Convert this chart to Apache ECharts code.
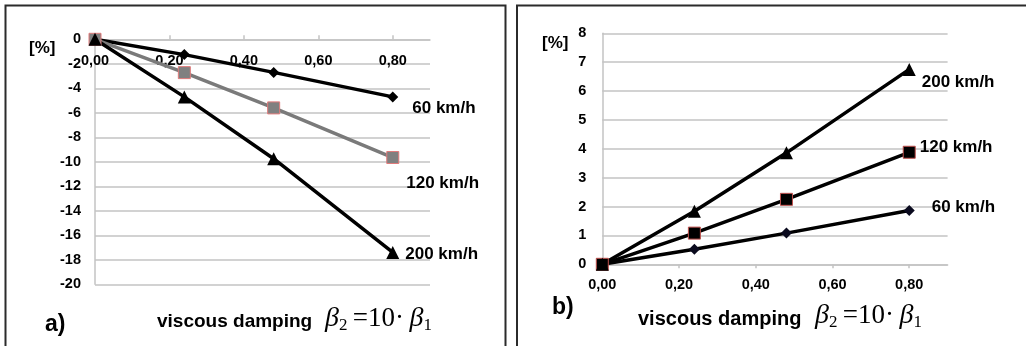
<!DOCTYPE html>
<html><head><meta charset="utf-8">
<script src="https://cdn.jsdelivr.net/npm/echarts@6/dist/echarts.min.js"></script>
<style>html,body{margin:0;padding:0;background:#fff}#c{width:1026px;height:346px}</style>
</head><body><div id="c"></div>
<script>
// data
const dampingX = [0, 0.24, 0.48, 0.80];
const xTicks = [0, 0.2, 0.4, 0.6, 0.8];
// a) left chart
const a60 = [0, -1.25, -2.7, -4.7];
const a120 = [0, -2.72, -5.6, -9.65];
const a200 = [0, -4.7, -9.75, -17.4];
// b) right chart
const b60 = [0, 0.52, 1.08, 1.86];
const b120 = [0, 1.08, 2.25, 3.88];
const b200 = [0, 1.84, 3.86, 6.75];
const speedNames = ['60 km/h', '120 km/h', '200 km/h'];

const FONT = 'Liberation Sans, Arial, sans-serif';
const pairs = a => a.map((v, i) => [dampingX[i], v]);
const fmt = v => v.toFixed(2).replace('.', ',');

function withEndLabel(arr, name, offset) {
  const d = pairs(arr);
  return d.map((p, i) => i === d.length - 1 ? {
    value: p,
    label: { show: true, formatter: name, position: 'right', offset: offset,
      fontFamily: FONT, fontWeight: 'bold', fontSize: 17, color: '#000' }
  } : { value: p });
}

const gridLineColor = '#c3c3c3';
function xAxisCfg(gridIndex, top) {
  return {
    type: 'value', gridIndex, min: 0, max: 0.9, position: top ? 'top' : 'bottom',
    axisLine: { show: true, onZero: false, lineStyle: { color: gridLineColor, width: 1.5 } },
    axisTick: { show: true, length: 4, customValues: xTicks, lineStyle: { color: gridLineColor, width: 1.5 } },
    axisLabel: { inside: top, margin: top ? 14 : 13, customValues: xTicks, formatter: fmt,
      fontFamily: FONT, fontWeight: 'bold', fontSize: 14.5, color: '#000' },
    splitLine: { show: false }
  };
}
function yAxisCfg(gridIndex, min, max, interval, margin) {
  return {
    type: 'value', gridIndex, min, max, interval,
    axisLine: { show: true, lineStyle: { color: gridLineColor, width: 1.5 } },
    axisTick: { show: false },
    axisLabel: { margin, fontFamily: FONT, fontWeight: 'bold', fontSize: 14.5, color: '#000' },
    splitLine: { show: true, lineStyle: { color: gridLineColor, width: 1.5 } }
  };
}

const SERIF = 'Liberation Serif, Times New Roman, serif';
const rich = {
  b: { fontFamily: SERIF, fontStyle: 'italic', fontSize: 28, color: '#000', lineHeight: 32 },
  s: { fontFamily: SERIF, fontSize: 17, color: '#000', lineHeight: 32, padding: [14, 0, 0, 0] },
  t: { fontFamily: SERIF, fontSize: 27, color: '#000', lineHeight: 32 }
};
const formula = '{b|β}{s|2}{t|\u2009=10·\u2009}{b|β}{s|1}';

function txt(x, y, text, size) {
  return { type: 'text', x, y, style: { text, fontFamily: FONT, fontWeight: 'bold', fontSize: size, fill: '#000', verticalAlign: 'middle' } };
}

const chart = echarts.init(document.getElementById('c'), null, { renderer: 'canvas' });
chart.setOption({
  animation: false,
  backgroundColor: '#fff',
  grid: [
    { left: 95, top: 39.3, width: 335, height: 245 },
    { left: 602.3, top: 33.3, width: 345.3, height: 231 }
  ],
  xAxis: [xAxisCfg(0, true), xAxisCfg(1, false)],
  yAxis: [yAxisCfg(0, -20, 0, 2, 14), yAxisCfg(1, 0, 8, 1, 16)],
  series: [
    { type: 'line', xAxisIndex: 0, yAxisIndex: 0, data: withEndLabel(a60, speedNames[0], [9, 11]),
      symbol: 'diamond', symbolSize: 11, lineStyle: { color: '#000', width: 3.5 }, itemStyle: { color: '#000' } },
    { type: 'line', xAxisIndex: 0, yAxisIndex: 0, data: withEndLabel(a120, speedNames[1], [2, 26]),
      symbol: 'rect', symbolSize: 12, lineStyle: { color: '#7a7a7a', width: 3.5 }, itemStyle: { color: '#808080', borderColor: '#e07a7a', borderWidth: 1 } },
    { type: 'line', xAxisIndex: 0, yAxisIndex: 0, data: withEndLabel(a200, speedNames[2], [1, 2]),
      symbol: 'triangle', symbolSize: 13, lineStyle: { color: '#000', width: 3.5 }, itemStyle: { color: '#000' } },
    { type: 'line', xAxisIndex: 1, yAxisIndex: 1, data: withEndLabel(b60, speedNames[0], [12, -3]),
      symbol: 'diamond', symbolSize: 11, lineStyle: { color: '#000', width: 3.5 }, itemStyle: { color: '#0a0a1e' } },
    { type: 'line', xAxisIndex: 1, yAxisIndex: 1, data: withEndLabel(b120, speedNames[1], [-1, -5]),
      symbol: 'rect', symbolSize: 12, lineStyle: { color: '#000', width: 3.5 }, itemStyle: { color: '#000', borderColor: '#c0504d', borderWidth: 1 } },
    { type: 'line', xAxisIndex: 1, yAxisIndex: 1, data: withEndLabel(b200, speedNames[2], [1, 13]),
      symbol: 'triangle', symbolSize: 13, lineStyle: { color: '#000', width: 3.5 }, itemStyle: { color: '#000' } }
  ],
  graphic: [
    { type: 'rect', shape: { x: 5.5, y: 5.5, width: 500, height: 400 }, style: { fill: 'none', stroke: '#2b2b2b', lineWidth: 2 }, silent: true },
    { type: 'rect', shape: { x: 517, y: 5.5, width: 520, height: 400 }, style: { fill: 'none', stroke: '#2b2b2b', lineWidth: 2 }, silent: true },
    txt(29, 48, '[%]', 17),
    txt(542, 43, '[%]', 17),
    txt(45, 325, 'a)', 23),
    txt(552, 308, 'b)', 23),
    txt(157, 322, 'viscous damping', 19),
    txt(638, 319, 'viscous damping', 20),
    { type: 'text', x: 325, y: 319, style: { text: formula, rich, verticalAlign: 'middle', fill: '#000' } },
    { type: 'text', x: 815, y: 316, style: { text: formula, rich, verticalAlign: 'middle', fill: '#000' } }
  ]
});
</script></body></html>
